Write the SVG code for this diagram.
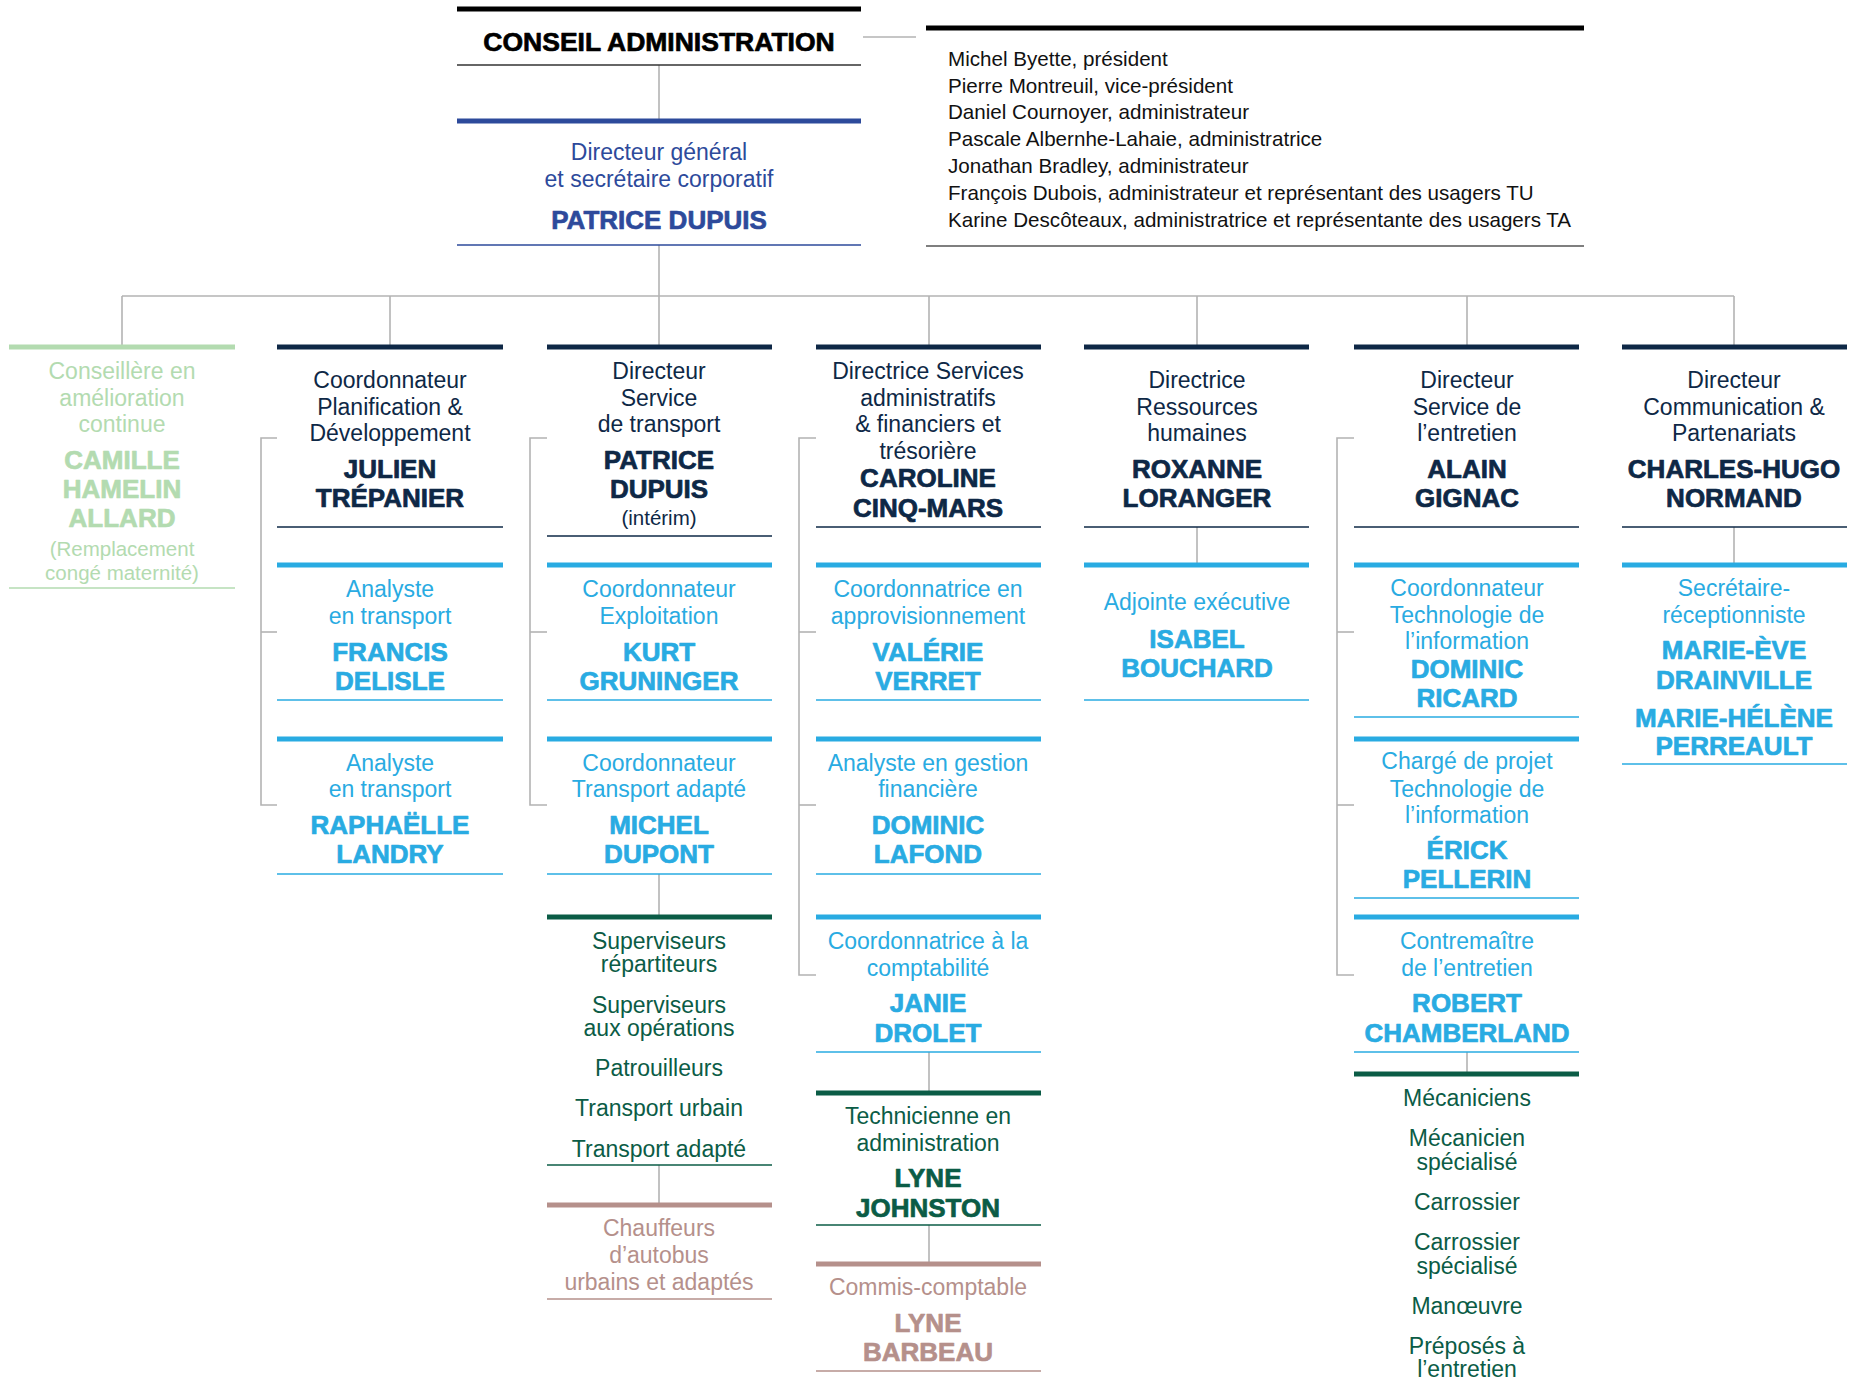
<svg xmlns="http://www.w3.org/2000/svg" width="1851" height="1380" viewBox="0 0 1851 1380">
<style>
text{font-family:"Liberation Sans",Arial,sans-serif;text-anchor:middle}
.r{font-size:23px}
.n{font-size:26px;font-weight:bold;stroke-width:0.7px;stroke-linejoin:round}
.s{font-size:20.5px}
.b{font-size:20.6px;text-anchor:start}
.hd{font-size:26.5px;font-weight:bold;stroke-width:0.7px;stroke-linejoin:round}
.k{stroke-width:5}
.h{stroke-width:1.6}
.c{stroke:#b3b3b3;stroke-width:1.6;fill:none}
.blk text{fill:#000;stroke:#000}.blk line{stroke:#000}
.gb text{fill:#2d4a9b}.gb .n{stroke:#2d4a9b}.gb line{stroke:#2d4a9b}
.nv text{fill:#0e2846}.nv .n{stroke:#0e2846}.nv line{stroke:#0e2846}
.lb text{fill:#29abe2}.lb .n{stroke:#29abe2}.lb line{stroke:#29abe2}
.dg text{fill:#0b5c46}.dg .n{stroke:#0b5c46}.dg line{stroke:#0b5c46}
.lg text{fill:#b3dbb0}.lg .n{stroke:#b3dbb0}.lg line{stroke:#b3dbb0}
.ro text{fill:#b5908b}.ro .n{stroke:#b5908b}.ro line{stroke:#b5908b}
.bd text{fill:#111}
</style>
<rect width="1851" height="1380" fill="#fff"/>
<g id="connectors" class="c">
<line x1="659" y1="65" x2="659" y2="119"/>
<line x1="863" y1="37" x2="916" y2="37"/>
<line x1="659" y1="245" x2="659" y2="345"/>
<line x1="122" y1="296" x2="1734" y2="296"/>
<line x1="122" y1="296" x2="122" y2="345"/>
<line x1="390" y1="296" x2="390" y2="345"/>
<line x1="929" y1="296" x2="929" y2="345"/>
<line x1="1197" y1="296" x2="1197" y2="345"/>
<line x1="1467" y1="296" x2="1467" y2="345"/>
<line x1="1734" y1="296" x2="1734" y2="345"/>
<polyline points="277,438 261,438 261,805 277,805"/>
<line x1="261" y1="632" x2="277" y2="632"/>
<polyline points="547,438 530,438 530,805 547,805"/>
<line x1="530" y1="632" x2="547" y2="632"/>
<polyline points="816,438 799,438 799,975 816,975"/>
<line x1="799" y1="632" x2="816" y2="632"/>
<line x1="799" y1="805" x2="816" y2="805"/>
<polyline points="1354,438 1337,438 1337,975 1354,975"/>
<line x1="1337" y1="632" x2="1354" y2="632"/>
<line x1="1337" y1="805" x2="1354" y2="805"/>
<line x1="659" y1="874" x2="659" y2="915"/>
<line x1="659" y1="1165" x2="659" y2="1203"/>
<line x1="929" y1="1052" x2="929" y2="1091"/>
<line x1="929" y1="1225" x2="929" y2="1262"/>
<line x1="1197" y1="527" x2="1197" y2="563"/>
<line x1="1467" y1="1052" x2="1467" y2="1072"/>
<line x1="1734" y1="527" x2="1734" y2="563"/>
</g>

<g id="conseil" class="blk">
<line class="k" x1="457" y1="9" x2="861" y2="9"/>
<text class="hd" x="659" y="51">CONSEIL ADMINISTRATION</text>
<line x1="457" y1="65" x2="861" y2="65" style="stroke:#333;stroke-width:1.6"/>
</g>

<g id="board" class="bd">
<line x1="926" y1="28" x2="1584" y2="28" style="stroke:#000;stroke-width:5"/>
<text class="b" x="948" y="66">Michel Byette, président</text>
<text class="b" x="948" y="93">Pierre Montreuil, vice-président</text>
<text class="b" x="948" y="119">Daniel Cournoyer, administrateur</text>
<text class="b" x="948" y="146">Pascale Albernhe-Lahaie, administratrice</text>
<text class="b" x="948" y="173">Jonathan Bradley, administrateur</text>
<text class="b" x="948" y="200">François Dubois, administrateur et représentant des usagers TU</text>
<text class="b" x="948" y="227">Karine Descôteaux, administratrice et représentante des usagers TA</text>
<line x1="926" y1="246" x2="1584" y2="246" style="stroke:#555;stroke-width:1.6"/>
</g>

<g id="dg" class="gb">
<line class="k" x1="457" y1="121" x2="861" y2="121"/>
<text class="r" x="659" y="160">Directeur général</text>
<text class="r" x="659" y="187">et secrétaire corporatif</text>
<text class="n" x="659" y="229">PATRICE DUPUIS</text>
<line class="h" x1="457" y1="245" x2="861" y2="245"/>
</g>

<!-- Column 1 -->
<g id="hamelin" class="lg">
<line class="k" x1="9" y1="347" x2="235" y2="347"/>
<text class="r" x="122" y="379">Conseillère en</text>
<text class="r" x="122" y="406">amélioration</text>
<text class="r" x="122" y="432">continue</text>
<text class="n" x="122" y="469">CAMILLE</text>
<text class="n" x="122" y="498">HAMELIN</text>
<text class="n" x="122" y="527">ALLARD</text>
<text class="s" x="122" y="556">(Remplacement</text>
<text class="s" x="122" y="580">congé maternité)</text>
<line class="h" x1="9" y1="588" x2="235" y2="588"/>
</g>

<!-- Column 2 -->
<g id="trepanier" class="nv">
<line class="k" x1="277" y1="347" x2="503" y2="347"/>
<text class="r" x="390" y="388">Coordonnateur</text>
<text class="r" x="390" y="415">Planification &amp;</text>
<text class="r" x="390" y="441">Développement</text>
<text class="n" x="390" y="478">JULIEN</text>
<text class="n" x="390" y="507">TRÉPANIER</text>
<line class="h" x1="277" y1="527" x2="503" y2="527"/>
</g>
<g id="delisle" class="lb">
<line class="k" x1="277" y1="565" x2="503" y2="565"/>
<text class="r" x="390" y="597">Analyste</text>
<text class="r" x="390" y="624">en transport</text>
<text class="n" x="390" y="661">FRANCIS</text>
<text class="n" x="390" y="690">DELISLE</text>
<line class="h" x1="277" y1="700" x2="503" y2="700"/>
</g>
<g id="landry" class="lb">
<line class="k" x1="277" y1="739" x2="503" y2="739"/>
<text class="r" x="390" y="771">Analyste</text>
<text class="r" x="390" y="797">en transport</text>
<text class="n" x="390" y="834">RAPHAËLLE</text>
<text class="n" x="390" y="863">LANDRY</text>
<line class="h" x1="277" y1="874" x2="503" y2="874"/>
</g>

<!-- Column 3 -->
<g id="dupuis" class="nv">
<line class="k" x1="547" y1="347" x2="772" y2="347"/>
<text class="r" x="659" y="379">Directeur</text>
<text class="r" x="659" y="406">Service</text>
<text class="r" x="659" y="432">de transport</text>
<text class="n" x="659" y="469">PATRICE</text>
<text class="n" x="659" y="498">DUPUIS</text>
<text class="s" x="659" y="525">(intérim)</text>
<line class="h" x1="547" y1="536" x2="772" y2="536"/>
</g>
<g id="gruninger" class="lb">
<line class="k" x1="547" y1="565" x2="772" y2="565"/>
<text class="r" x="659" y="597">Coordonnateur</text>
<text class="r" x="659" y="624">Exploitation</text>
<text class="n" x="659" y="661">KURT</text>
<text class="n" x="659" y="690">GRUNINGER</text>
<line class="h" x1="547" y1="700" x2="772" y2="700"/>
</g>
<g id="dupont" class="lb">
<line class="k" x1="547" y1="739" x2="772" y2="739"/>
<text class="r" x="659" y="771">Coordonnateur</text>
<text class="r" x="659" y="797">Transport adapté</text>
<text class="n" x="659" y="834">MICHEL</text>
<text class="n" x="659" y="863">DUPONT</text>
<line class="h" x1="547" y1="874" x2="772" y2="874"/>
</g>
<g id="superviseurs" class="dg">
<line class="k" x1="547" y1="917" x2="772" y2="917"/>
<text class="r" x="659" y="949">Superviseurs</text>
<text class="r" x="659" y="972">répartiteurs</text>
<text class="r" x="659" y="1013">Superviseurs</text>
<text class="r" x="659" y="1036">aux opérations</text>
<text class="r" x="659" y="1076">Patrouilleurs</text>
<text class="r" x="659" y="1116">Transport urbain</text>
<text class="r" x="659" y="1157">Transport adapté</text>
<line class="h" x1="547" y1="1165" x2="772" y2="1165"/>
</g>
<g id="chauffeurs" class="ro">
<line class="k" x1="547" y1="1205" x2="772" y2="1205"/>
<text class="r" x="659" y="1236">Chauffeurs</text>
<text class="r" x="659" y="1263">d’autobus</text>
<text class="r" x="659" y="1290">urbains et adaptés</text>
<line class="h" x1="547" y1="1299" x2="772" y2="1299"/>
</g>

<!-- Column 4 -->
<g id="cinqmars" class="nv">
<line class="k" x1="816" y1="347" x2="1041" y2="347"/>
<text class="r" x="928" y="379">Directrice Services</text>
<text class="r" x="928" y="406">administratifs</text>
<text class="r" x="928" y="432">&amp; financiers et</text>
<text class="r" x="928" y="459">trésorière</text>
<text class="n" x="928" y="487">CAROLINE</text>
<text class="n" x="928" y="517">CINQ-MARS</text>
<line class="h" x1="816" y1="527" x2="1041" y2="527"/>
</g>
<g id="verret" class="lb">
<line class="k" x1="816" y1="565" x2="1041" y2="565"/>
<text class="r" x="928" y="597">Coordonnatrice en</text>
<text class="r" x="928" y="624">approvisionnement</text>
<text class="n" x="928" y="661">VALÉRIE</text>
<text class="n" x="928" y="690">VERRET</text>
<line class="h" x1="816" y1="700" x2="1041" y2="700"/>
</g>
<g id="lafond" class="lb">
<line class="k" x1="816" y1="739" x2="1041" y2="739"/>
<text class="r" x="928" y="771">Analyste en gestion</text>
<text class="r" x="928" y="797">financière</text>
<text class="n" x="928" y="834">DOMINIC</text>
<text class="n" x="928" y="863">LAFOND</text>
<line class="h" x1="816" y1="874" x2="1041" y2="874"/>
</g>
<g id="drolet" class="lb">
<line class="k" x1="816" y1="917" x2="1041" y2="917"/>
<text class="r" x="928" y="949">Coordonnatrice à la</text>
<text class="r" x="928" y="976">comptabilité</text>
<text class="n" x="928" y="1012">JANIE</text>
<text class="n" x="928" y="1042">DROLET</text>
<line class="h" x1="816" y1="1052" x2="1041" y2="1052"/>
</g>
<g id="johnston" class="dg">
<line class="k" x1="816" y1="1093" x2="1041" y2="1093"/>
<text class="r" x="928" y="1124">Technicienne en</text>
<text class="r" x="928" y="1151">administration</text>
<text class="n" x="928" y="1187">LYNE</text>
<text class="n" x="928" y="1217">JOHNSTON</text>
<line class="h" x1="816" y1="1225" x2="1041" y2="1225"/>
</g>
<g id="barbeau" class="ro">
<line class="k" x1="816" y1="1264" x2="1041" y2="1264"/>
<text class="r" x="928" y="1295">Commis-comptable</text>
<text class="n" x="928" y="1332">LYNE</text>
<text class="n" x="928" y="1361">BARBEAU</text>
<line class="h" x1="816" y1="1371" x2="1041" y2="1371"/>
</g>

<!-- Column 5 -->
<g id="loranger" class="nv">
<line class="k" x1="1084" y1="347" x2="1309" y2="347"/>
<text class="r" x="1197" y="388">Directrice</text>
<text class="r" x="1197" y="415">Ressources</text>
<text class="r" x="1197" y="441">humaines</text>
<text class="n" x="1197" y="478">ROXANNE</text>
<text class="n" x="1197" y="507">LORANGER</text>
<line class="h" x1="1084" y1="527" x2="1309" y2="527"/>
</g>
<g id="bouchard" class="lb">
<line class="k" x1="1084" y1="565" x2="1309" y2="565"/>
<text class="r" x="1197" y="610">Adjointe exécutive</text>
<text class="n" x="1197" y="648">ISABEL</text>
<text class="n" x="1197" y="677">BOUCHARD</text>
<line class="h" x1="1084" y1="700" x2="1309" y2="700"/>
</g>

<!-- Column 6 -->
<g id="gignac" class="nv">
<line class="k" x1="1354" y1="347" x2="1579" y2="347"/>
<text class="r" x="1467" y="388">Directeur</text>
<text class="r" x="1467" y="415">Service de</text>
<text class="r" x="1467" y="441">l’entretien</text>
<text class="n" x="1467" y="478">ALAIN</text>
<text class="n" x="1467" y="507">GIGNAC</text>
<line class="h" x1="1354" y1="527" x2="1579" y2="527"/>
</g>
<g id="ricard" class="lb">
<line class="k" x1="1354" y1="565" x2="1579" y2="565"/>
<text class="r" x="1467" y="596">Coordonnateur</text>
<text class="r" x="1467" y="623">Technologie de</text>
<text class="r" x="1467" y="649">l’information</text>
<text class="n" x="1467" y="678">DOMINIC</text>
<text class="n" x="1467" y="707">RICARD</text>
<line class="h" x1="1354" y1="717" x2="1579" y2="717"/>
</g>
<g id="pellerin" class="lb">
<line class="k" x1="1354" y1="739" x2="1579" y2="739"/>
<text class="r" x="1467" y="769">Chargé de projet</text>
<text class="r" x="1467" y="797">Technologie de</text>
<text class="r" x="1467" y="823">l’information</text>
<text class="n" x="1467" y="859">ÉRICK</text>
<text class="n" x="1467" y="888">PELLERIN</text>
<line class="h" x1="1354" y1="898" x2="1579" y2="898"/>
</g>
<g id="chamberland" class="lb">
<line class="k" x1="1354" y1="917" x2="1579" y2="917"/>
<text class="r" x="1467" y="949">Contremaître</text>
<text class="r" x="1467" y="976">de l’entretien</text>
<text class="n" x="1467" y="1012">ROBERT</text>
<text class="n" x="1467" y="1042">CHAMBERLAND</text>
<line class="h" x1="1354" y1="1052" x2="1579" y2="1052"/>
</g>
<g id="mecaniciens" class="dg">
<line class="k" x1="1354" y1="1074" x2="1579" y2="1074"/>
<text class="r" x="1467" y="1106">Mécaniciens</text>
<text class="r" x="1467" y="1146">Mécanicien</text>
<text class="r" x="1467" y="1170">spécialisé</text>
<text class="r" x="1467" y="1210">Carrossier</text>
<text class="r" x="1467" y="1250">Carrossier</text>
<text class="r" x="1467" y="1274">spécialisé</text>
<text class="r" x="1467" y="1314">Manœuvre</text>
<text class="r" x="1467" y="1354">Préposés à</text>
<text class="r" x="1467" y="1377">l’entretien</text>
</g>

<!-- Column 7 -->
<g id="normand" class="nv">
<line class="k" x1="1622" y1="347" x2="1847" y2="347"/>
<text class="r" x="1734" y="388">Directeur</text>
<text class="r" x="1734" y="415">Communication &amp;</text>
<text class="r" x="1734" y="441">Partenariats</text>
<text class="n" x="1734" y="478">CHARLES-HUGO</text>
<text class="n" x="1734" y="507">NORMAND</text>
<line class="h" x1="1622" y1="527" x2="1847" y2="527"/>
</g>
<g id="secretaires" class="lb">
<line class="k" x1="1622" y1="565" x2="1847" y2="565"/>
<text class="r" x="1734" y="596">Secrétaire-</text>
<text class="r" x="1734" y="623">réceptionniste</text>
<text class="n" x="1734" y="659">MARIE-ÈVE</text>
<text class="n" x="1734" y="689">DRAINVILLE</text>
<text class="n" x="1734" y="727">MARIE-HÉLÈNE</text>
<text class="n" x="1734" y="755">PERREAULT</text>
<line class="h" x1="1622" y1="764" x2="1847" y2="764"/>
</g>
</svg>
